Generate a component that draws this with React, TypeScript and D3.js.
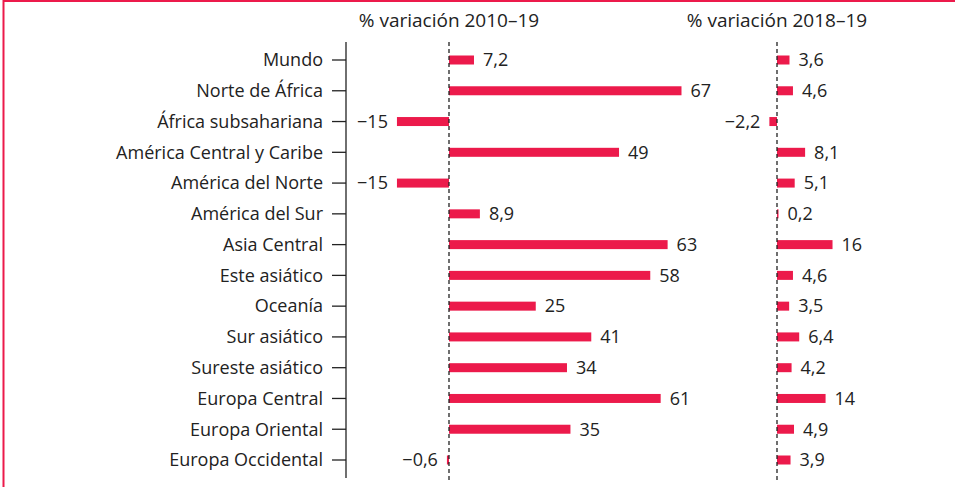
import React, { useEffect, useRef } from 'react';
import * as d3 from 'd3';

const categories = [
  'Mundo',
  'Norte de África',
  'África subsahariana',
  'América Central y Caribe',
  'América del Norte',
  'América del Sur',
  'Asia Central',
  'Este asiático',
  'Oceanía',
  'Sur asiático',
  'Sureste asiático',
  'Europa Central',
  'Europa Oriental',
  'Europa Occidental',
];

const change2010to19 = [7.2, 67, -15, 49, -15, 8.9, 63, 58, 25, 41, 34, 61, 35, -0.6];
const change2018to19 = [3.6, 4.6, -2.2, 8.1, 5.1, 0.2, 16, 4.6, 3.5, 6.4, 4.2, 14, 4.9, 3.9];

const panelTitles = ['% variación 2010–19', '% variación 2018–19'];

const W = 955;
const H = 487;
const RED = '#ec1a4b';
const INK = '#222';
const FONT = '"Open Sans", sans-serif';

const fmt = (v: number) => String(v).replace('.', ',').replace('-', '−');

export default function App() {
  const ref = useRef<SVGSVGElement>(null);

  useEffect(() => {
    const svg = d3.select(ref.current);
    svg.selectAll('*').remove();

    // frame (top + left)
    svg.append('line').attr('x1', 3).attr('x2', W).attr('y1', 1).attr('y2', 1).attr('stroke', RED).attr('stroke-width', 2);
    svg.append('line').attr('x1', 3.5).attr('x2', 3.5).attr('y1', 0).attr('y2', H).attr('stroke', RED).attr('stroke-width', 2);

    const y = d3.scalePoint<string>().domain(categories).range([60, 460]);
    const k = 3.47; // px per percentage point, shared by both panels
    const x1 = d3.scaleLinear().domain([-15, 67]).range([449 - 15 * k, 449 + 67 * k]);
    const x2 = d3.scaleLinear().domain([-2.2, 16]).range([777 - 2.2 * k, 777 + 16 * k]);
    const barH = 9;

    // category axis
    const axisX = 346;
    svg.append('line').attr('x1', axisX).attr('x2', axisX).attr('y1', 42).attr('y2', 478).attr('stroke', INK).attr('stroke-width', 1.3);
    const rows = svg.append('g');
    categories.forEach((c) => {
      rows.append('line').attr('x1', axisX - 14).attr('x2', axisX).attr('y1', y(c)!).attr('y2', y(c)!).attr('stroke', INK).attr('stroke-width', 1.3);
      rows
        .append('text')
        .attr('x', axisX - 23)
        .attr('y', y(c)!)
        .attr('dy', '0.35em')
        .attr('text-anchor', 'end')
        .style('font-family', FONT)
        .style('font-size', '18px')
        .style('fill', INK)
        .text(c);
    });

    const panels = [
      { x: x1, values: change2010to19, title: panelTitles[0] },
      { x: x2, values: change2018to19, title: panelTitles[1] },
    ];

    panels.forEach((p) => {
      const g = svg.append('g');
      const x0 = p.x(0);
      g.append('text')
        .attr('x', x0)
        .attr('y', 27)
        .attr('text-anchor', 'middle')
        .style('font-family', FONT)
        .style('font-size', '19px')
        .style('fill', INK)
        .text(p.title);

      g.selectAll('rect')
        .data(p.values)
        .enter()
        .append('rect')
        .attr('x', (d) => Math.min(p.x(d), x0))
        .attr('y', (_, i) => y(categories[i])! - barH / 2)
        .attr('width', (d) => Math.max(1.5, Math.abs(p.x(d) - x0)))
        .attr('height', barH)
        .attr('fill', RED);

      g.selectAll('text.val')
        .data(p.values)
        .enter()
        .append('text')
        .attr('class', 'val')
        .attr('x', (d) => (d < 0 ? p.x(d) - 9 : Math.max(p.x(d), x0 + 1.5) + 9))
        .attr('y', (_, i) => y(categories[i])!)
        .attr('dy', '0.35em')
        .attr('text-anchor', (d) => (d < 0 ? 'end' : 'start'))
        .style('font-family', FONT)
        .style('font-size', '18px')
        .style('fill', INK)
        .text((d) => fmt(d));

      g.append('line')
        .attr('x1', x0)
        .attr('x2', x0)
        .attr('y1', 42)
        .attr('y2', 480)
        .attr('stroke', INK)
        .attr('stroke-width', 1.3)
        .attr('stroke-dasharray', '4,3');
    });
  }, []);

  return (
    <svg
      ref={ref}
      width={W}
      height={H}
      style={{ position: 'absolute', left: 0, top: 0, background: '#fff' }}
    />
  );
}
